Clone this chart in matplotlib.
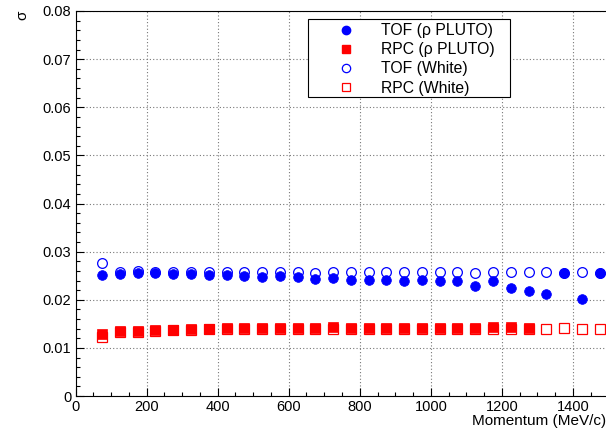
import matplotlib
matplotlib.use("Agg")
import matplotlib.pyplot as plt
from matplotlib.ticker import MultipleLocator
from matplotlib.lines import Line2D
from matplotlib.patches import Rectangle

plt.rcParams['font.family'] = ['Liberation Sans', 'DejaVu Sans']

# Momentum bin centres (MeV/c)
momentum = [75, 125, 175, 225, 275, 325, 375, 425, 475, 525,
            575, 625, 675, 725, 775, 825, 875, 925, 975, 1025,
            1075, 1125, 1175, 1225, 1275, 1325, 1375, 1425, 1475]

tof_pluto = [0.0252, 0.0253, 0.0255, 0.0255, 0.0253, 0.0253, 0.0252, 0.0251, 0.0249, 0.0248,
             0.0249, 0.0248, 0.0244, 0.0245, 0.0242, 0.0242, 0.0242, 0.0240, 0.0242, 0.0238,
             0.0240, 0.0229, 0.0240, 0.0225, 0.0218, 0.0211, 0.0256, 0.0201, 0.0256]

tof_white = [0.0276, 0.0258, 0.0259, 0.0258, 0.0257, 0.0258, 0.0257, 0.0258, 0.0257, 0.0258,
             0.0258, 0.0257, 0.0256, 0.0257, 0.0257, 0.0258, 0.0257, 0.0257, 0.0257, 0.0257,
             0.0258, 0.0255, 0.0257, 0.0258, 0.0258, 0.0258, 0.0256, 0.0258, 0.0256]

rpc_pluto = [0.0128, 0.0135, 0.0136, 0.0138, 0.0138, 0.0139, 0.0140, 0.0141, 0.0142, 0.0142,
             0.0142, 0.0142, 0.0142, 0.0144, 0.0142, 0.0142, 0.0142, 0.0142, 0.0142, 0.0142,
             0.0142, 0.0142, 0.0143, 0.0143, 0.0142]
rpc_pluto_x = momentum[:len(rpc_pluto)]

rpc_white = [0.0123, 0.0134, 0.0134, 0.0136, 0.0137, 0.0137, 0.0139, 0.0139, 0.0140, 0.0140,
             0.0140, 0.0140, 0.0140, 0.0140, 0.0140, 0.0140, 0.0140, 0.0140, 0.0140, 0.0140,
             0.0140, 0.0140, 0.0140, 0.0140, 0.0140, 0.0139, 0.0141, 0.0139, 0.0139]

legend_labels = ["TOF (\u03c1 PLUTO)", "RPC (\u03c1 PLUTO)", "TOF (White)", "RPC (White)"]

W, H = 606, 432
fig = plt.figure(figsize=(W / 100, H / 100), dpi=100)
ax = fig.add_axes([75.5 / W, 36 / H, 533 / W, 385 / H])

blue = '#0000ff'
red = '#ff0000'

ax.plot(momentum, tof_white, linestyle='none', marker='o', ms=7, mfc='none',
        mec=blue, mew=0.9, zorder=3)
ax.plot(momentum, rpc_white, linestyle='none', marker='s', ms=6.5, mfc='none',
        mec=red, mew=0.9, zorder=3)
ax.plot(momentum, tof_pluto, linestyle='none', marker='o', ms=7, mfc=blue,
        mec=blue, mew=0.5, zorder=4)
ax.plot(rpc_pluto_x, rpc_pluto, linestyle='none', marker='s', ms=6.5, mfc=red,
        mec=red, mew=0.5, zorder=4)

ax.set_xlim(0, 1500)
ax.set_ylim(0, 0.08)
ax.xaxis.set_minor_locator(MultipleLocator(50))
ax.yaxis.set_minor_locator(MultipleLocator(0.002))
ax.set_yticks([0, 0.01, 0.02, 0.03, 0.04, 0.05, 0.06, 0.07, 0.08])
ax.set_yticklabels(['0', '0.01', '0.02', '0.03', '0.04', '0.05', '0.06', '0.07', '0.08'])
ax.set_xticks([0, 200, 400, 600, 800, 1000, 1200, 1400])
ax.set_xticklabels(['0', '200', '400', '600', '800', '1000', '1200', '1400'])

ax.tick_params(which='major', direction='in', length=6, width=0.8, labelsize=10.5,
               top=False, right=False, pad=3)
ax.tick_params(which='minor', direction='in', length=3, width=0.8, top=False, right=False)

ax.grid(True, which='major', color='#777777', linestyle=(0, (1, 2)), linewidth=0.8)
ax.set_axisbelow(True)
for s in ax.spines.values():
    s.set_linewidth(0.8)

fig.text(606 / W, 1 - 421 / H, "Momentum (MeV/c)", ha='right', va='center', fontsize=11)
fig.text(22 / W, 1 - 15 / H, "\u03c3", rotation=90, ha='center', va='center', fontsize=11)

# Legend frame (ROOT style, fixed box)
fig.patches.append(Rectangle((308 / W, 1 - 97 / H), (510 - 308) / W, (97 - 19) / H,
                             transform=fig.transFigure, facecolor='white',
                             edgecolor='black', linewidth=0.8, zorder=5))

handles = [
    Line2D([], [], linestyle='none', marker='o', ms=6, mfc=blue, mec=blue),
    Line2D([], [], linestyle='none', marker='s', ms=6, mfc=red, mec=red),
    Line2D([], [], linestyle='none', marker='o', ms=6, mfc='none', mec=blue, mew=0.9),
    Line2D([], [], linestyle='none', marker='s', ms=6, mfc='none', mec=red, mew=0.9),
]
leg = fig.legend(handles, legend_labels, loc='upper left',
                 bbox_to_anchor=(314 / W, 1 - 23 / H),
                 frameon=False, fontsize=11.3, handletextpad=0.2, borderpad=0.0,
                 labelspacing=0.27, handlelength=4.08, borderaxespad=0)
leg.set_zorder(6)

fig.savefig("out.png", dpi=100)
